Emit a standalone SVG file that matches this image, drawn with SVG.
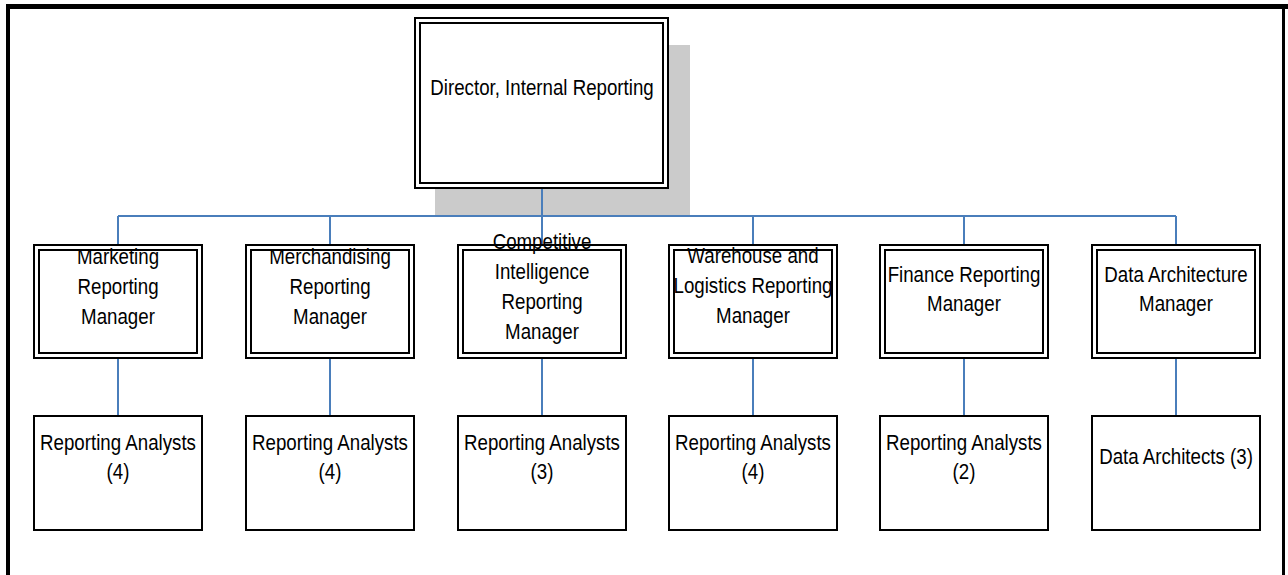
<svg xmlns="http://www.w3.org/2000/svg" width="1288" height="575" viewBox="0 0 1288 575">
<style>
.t{font-family:"Liberation Sans",Arial,sans-serif;font-size:22px;fill:#000;text-anchor:middle}
.bg{fill:#fff;stroke:none}
.b{fill:none;stroke:#000;stroke-width:2}
.c{fill:none;stroke:#4a7ebb;stroke-width:2}
</style>
<rect x="0" y="0" width="1288" height="575" fill="#fff"/>
<g id="frame">
<rect x="6" y="4" width="1282" height="5" fill="#000"/>
<rect x="6" y="4" width="4" height="571" fill="#000"/>
<rect x="1282" y="4" width="3" height="571" fill="#000"/>
</g>
<rect x="435" y="45" width="255" height="170" fill="#cbcbcb"/>
<g id="connectors">
<path class="c" d="M542 189V216M118 216H1176M118 216V244M330 216V244M542 216V244M753 216V244M964 216V244M1176 216V244"/>
<path class="c" d="M118 359V415M330 359V415M542 359V415M753 359V415M964 359V415M1176 359V415"/>
</g>
<g id="director">
<rect class="bg" x="415" y="18" width="253" height="170"/>
<g transform="translate(542 0) scale(0.85 1)"><text class="t" x="0" y="95">Director, Internal Reporting</text></g>
<rect class="b" x="415" y="18" width="253" height="170"/>
<rect class="b" x="420" y="23" width="243" height="160"/>
</g>
<g id="mgr-marketing">
<rect class="bg" x="34" y="245" width="168" height="113"/>
<g transform="translate(118 0) scale(0.85 1)"><text class="t" x="0" y="264">Marketing</text><text class="t" x="0" y="294">Reporting</text><text class="t" x="0" y="324">Manager</text></g>
<rect class="b" x="34" y="245" width="168" height="113"/><rect class="b" x="39" y="250" width="158" height="103"/>
</g>
<g id="mgr-merch">
<rect class="bg" x="246" y="245" width="168" height="113"/>
<g transform="translate(330 0) scale(0.85 1)"><text class="t" x="0" y="264">Merchandising</text><text class="t" x="0" y="294">Reporting</text><text class="t" x="0" y="324">Manager</text></g>
<rect class="b" x="246" y="245" width="168" height="113"/><rect class="b" x="251" y="250" width="158" height="103"/>
</g>
<g id="mgr-ci">
<rect class="bg" x="458" y="245" width="168" height="113"/>
<g transform="translate(542 0) scale(0.85 1)"><text class="t" x="0" y="249">Competitive</text><text class="t" x="0" y="279">Intelligence</text><text class="t" x="0" y="309">Reporting</text><text class="t" x="0" y="339">Manager</text></g>
<rect class="b" x="458" y="245" width="168" height="113"/><rect class="b" x="463" y="250" width="158" height="103"/>
</g>
<g id="mgr-warehouse">
<rect class="bg" x="669" y="245" width="168" height="113"/>
<g transform="translate(753 0) scale(0.85 1)"><text class="t" x="0" y="263">Warehouse and</text><text class="t" x="0" y="293">Logistics Reporting</text><text class="t" x="0" y="323">Manager</text></g>
<rect class="b" x="669" y="245" width="168" height="113"/><rect class="b" x="674" y="250" width="158" height="103"/>
</g>
<g id="mgr-finance">
<rect class="bg" x="880" y="245" width="168" height="113"/>
<g transform="translate(964 0) scale(0.85 1)"><text class="t" x="0" y="282">Finance Reporting</text><text class="t" x="0" y="311">Manager</text></g>
<rect class="b" x="880" y="245" width="168" height="113"/><rect class="b" x="885" y="250" width="158" height="103"/>
</g>
<g id="mgr-data">
<rect class="bg" x="1092" y="245" width="168" height="113"/>
<g transform="translate(1176 0) scale(0.85 1)"><text class="t" x="0" y="282">Data Architecture</text><text class="t" x="0" y="311">Manager</text></g>
<rect class="b" x="1092" y="245" width="168" height="113"/><rect class="b" x="1097" y="250" width="158" height="103"/>
</g>
<g id="ana-marketing">
<rect class="b" x="34" y="416" width="168" height="114" fill="#fff"/>
<g transform="translate(118 0) scale(0.85 1)"><text class="t" x="0" y="450">Reporting Analysts</text><text class="t" x="0" y="479">(4)</text></g>
</g>
<g id="ana-merch">
<rect class="b" x="246" y="416" width="168" height="114" fill="#fff"/>
<g transform="translate(330 0) scale(0.85 1)"><text class="t" x="0" y="450">Reporting Analysts</text><text class="t" x="0" y="479">(4)</text></g>
</g>
<g id="ana-ci">
<rect class="b" x="458" y="416" width="168" height="114" fill="#fff"/>
<g transform="translate(542 0) scale(0.85 1)"><text class="t" x="0" y="450">Reporting Analysts</text><text class="t" x="0" y="479">(3)</text></g>
</g>
<g id="ana-warehouse">
<rect class="b" x="669" y="416" width="168" height="114" fill="#fff"/>
<g transform="translate(753 0) scale(0.85 1)"><text class="t" x="0" y="450">Reporting Analysts</text><text class="t" x="0" y="479">(4)</text></g>
</g>
<g id="ana-finance">
<rect class="b" x="880" y="416" width="168" height="114" fill="#fff"/>
<g transform="translate(964 0) scale(0.85 1)"><text class="t" x="0" y="450">Reporting Analysts</text><text class="t" x="0" y="479">(2)</text></g>
</g>
<g id="ana-data">
<rect class="b" x="1092" y="416" width="168" height="114" fill="#fff"/>
<g transform="translate(1176 0) scale(0.85 1)"><text class="t" x="0" y="464">Data Architects (3)</text></g>
</g>
</svg>
